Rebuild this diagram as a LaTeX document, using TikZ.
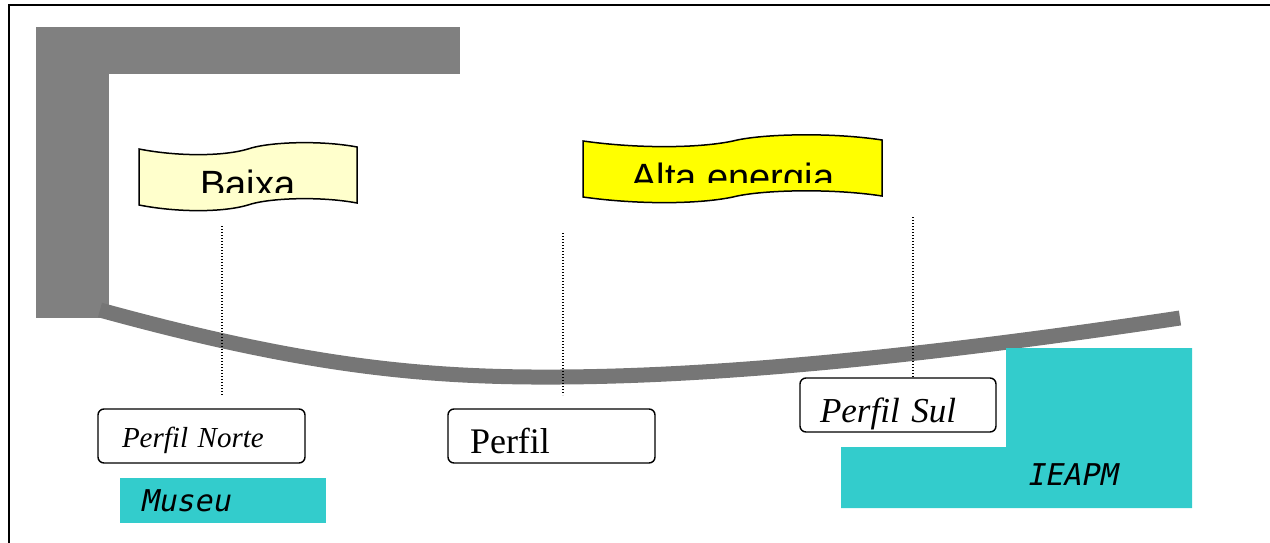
\documentclass[tikz,border=0pt]{standalone}
\usepackage{fontspec}
\setmainfont{Liberation Serif}
\newfontfamily\bannerfont{Liberation Sans}
\newfontfamily\placefont[FakeSlant=0.2]{DejaVu Sans Mono}
\usetikzlibrary{positioning}
\definecolor{wallgray}{RGB}{128,128,128}
\definecolor{beachgray}{RGB}{118,118,118}
\definecolor{paleyellow}{RGB}{255,255,204}
\definecolor{brightyellow}{RGB}{255,255,0}
\definecolor{seacyan}{RGB}{51,204,204}
\tikzstyle{perfil} = [rectangle, rounded corners=6pt, draw=black, line width=1.4pt, fill=white, inner ysep=0pt, minimum height=54pt, align=left, text depth=0pt]
\tikzstyle{place} = [rectangle, fill=seacyan, inner ysep=0pt, align=left, text depth=0pt]
\tikzstyle{flag} = [draw=black, line width=1.5pt]
\tikzstyle{guide} = [line width=1.2pt, dash pattern=on 1.2pt off 1.8pt]
\begin{document}
\begin{tikzpicture}[x=1pt,y=-1pt]
    \useasboundingbox (0,0) rectangle (1270,543);
    % frame
    \draw [line width=1.5pt] (9,543) -- (9,5) -- (1270,5);
    % wall
    \fill [wallgray] (36,27) rectangle (460,74);
    \fill [wallgray] (36,27) rectangle (109,318);
    % beach
    \draw [beachgray, line width=15pt] (100,310) .. controls (300,365) and (420,378) .. (560,377)
        .. controls (760,376) and (1000,345) .. (1180,318);
    % banners
    \filldraw [flag, fill=paleyellow] (139,149) .. controls (180,157) and (225,156) .. (248,149)
        .. controls (268,142) and (320,140) .. (357,147) -- (357,203)
        .. controls (320,196) and (268,198) .. (248,205)
        .. controls (225,212) and (180,213) .. (139,205) -- cycle;
    \begin{scope}
        \clip (139,140) rectangle (357,192);
        \node (baixa) [anchor=base, font=\bannerfont\fontsize{38}{40}\selectfont] at (248,197) {Baixa};
    \end{scope}
    \filldraw [flag, fill=brightyellow] (583,141) .. controls (640,149) and (700,148) .. (733,141)
        .. controls (760,134) and (830,132) .. (882,140) -- (882,196)
        .. controls (830,188) and (760,190) .. (733,197)
        .. controls (700,204) and (640,205) .. (583,197) -- cycle;
    \begin{scope}
        \clip (583,130) rectangle (882,182);
        \node (alta) [anchor=base, font=\bannerfont\fontsize{38}{40}\selectfont] at (733,190) {Alta energia};
    \end{scope}
    % profiles
    \node (norte) [perfil, minimum width=207pt, text width=159pt, inner xsep=24pt, text height=22pt,
        font=\itshape\fontsize{29}{30}\selectfont] at (201.5,436) {Perfil Norte};
    \node (meio) [perfil, minimum width=207pt, text width=163pt, inner xsep=22pt, text height=34pt,
        font=\fontsize{36}{38}\selectfont] at (551.5,436) {Perfil};
    \node (sul) [perfil, minimum width=196pt, text width=156pt, inner xsep=20pt, text height=34pt,
        font=\itshape\fontsize{35}{37}\selectfont] at (898,405) {Perfil Sul};
    \coordinate (baixaTop) at (222,226);
    \coordinate (baixaFoot) at (222,395);
    \coordinate (meioTop) at (563,233);
    \coordinate (meioFoot) at (563,395);
    \coordinate (sulTop) at (913,217);
    \draw [guide] (baixaTop) -- (baixaFoot);
    \draw [guide] (meioTop) -- (meioFoot);
    \draw [guide] (sulTop) -- (sulTop |- sul.north);
    % places
    \node (museu) [place, minimum width=206pt, minimum height=45pt, text width=166pt, inner xsep=18pt,
        text height=21pt, font=\placefont\fontsize{30}{31}\selectfont] at (223,500.5) {Museu};
    \fill [seacyan] (1006,348) -- (1192,348) -- (1192,508) -- (841,508) -- (841,447) -- (1006,447) -- cycle;
    \node (ieapm) [anchor=base west, font=\placefont\fontsize{30}{31}\selectfont] at (1023,485) {IEAPM};
\end{tikzpicture}
\end{document}
